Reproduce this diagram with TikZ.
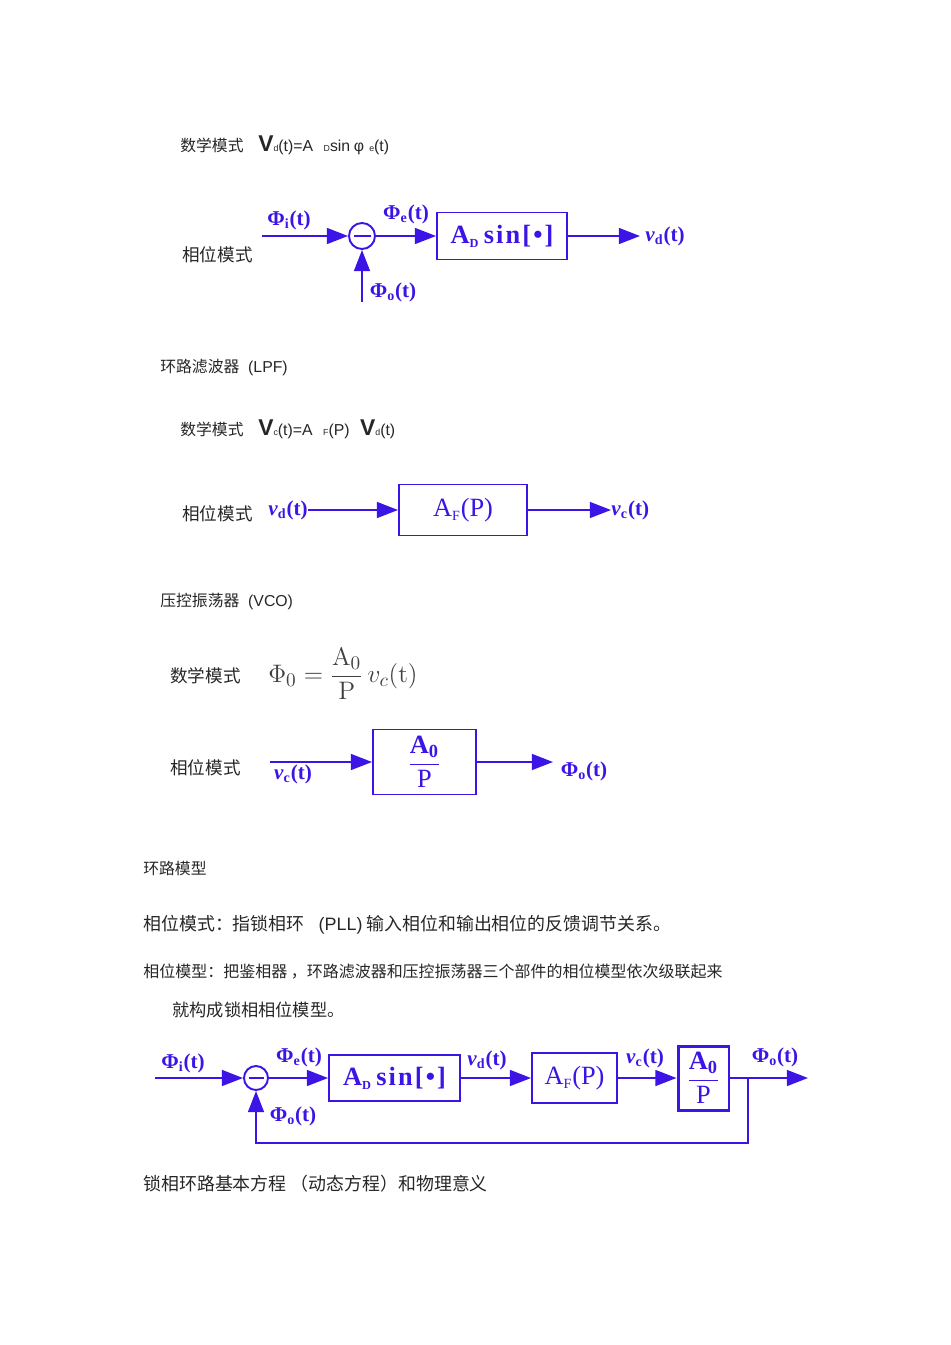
\documentclass[tikz,border=0pt]{standalone}
\usepackage[no-math]{fontspec}
\setmainfont{Liberation Sans}
\newfontfamily\cjk{Noto Sans CJK SC}
\newfontfamily\dfont{Liberation Serif}
\usetikzlibrary{arrows.meta}
\definecolor{pllblue}{RGB}{60,20,230}
\newcommand\phs[1]{Φ\textsubscript{#1}(t)}
\newcommand\vlt[1]{\textit{v}\textsubscript{#1}(t)}
\newcommand\adsin{{\addfontfeature{LetterSpace=8}A\textsubscript{\fontsize{7}{8}\selectfont D}\,sin[\textbullet]}}
\newcommand\afp{A\textsubscript{\fontsize{8}{8}\selectfont F}(P)}
\newcommand\aop{$\displaystyle\frac{\hbox{\bfseries A\textsubscript{0}}}{\hbox{P}}$}

\begin{document}
\begin{tikzpicture}[x=0.02cm, y=-0.02cm,
  txt/.style={anchor=west, inner sep=0pt, text=black!85,
              font=\cjk\fontsize{9}{11}\selectfont},
  mode/.style={txt, font=\cjk\fontsize{10}{12}\selectfont},
  sig/.style={inner sep=0pt, text=pllblue,
              font=\dfont\bfseries\fontsize{12}{14}\selectfont},
  blk/.style={draw=pllblue, line width=1.1pt, inner sep=0pt, text=pllblue,
              font=\dfont\fontsize{15}{17}\selectfont},
  sumpt/.style={circle, draw=pllblue, line width=1.1pt, inner sep=0pt,
              path picture={\draw[pllblue, line width=1.3pt]
                ([xshift=0.09cm]path picture bounding box.west) --
                ([xshift=-0.09cm]path picture bounding box.east);}},
  conn/.style={pllblue, line width=1.1pt, -{Triangle[length=12pt, width=9pt]}}]
  \useasboundingbox (0,0) rectangle (950,1345);

  % phase detector
  \node[txt] (pdmath) at (180,145) {数学模式};
  \node[anchor=west, inner sep=0pt, text=black!85, font=\fontsize{9}{11}\selectfont] (pdeq) at (258,145)
    {{\bfseries\fontsize{13}{14}\selectfont V}{\fontsize{5}{6}\selectfont d}(t)=A\hspace{6pt}{\fontsize{5}{6}\selectfont D}sin\hspace{2pt}φ\hspace{3pt}{\fontsize{5}{6}\selectfont e}(t)};
  \node[mode] (pdmode) at (182,255) {相位模式};
  \coordinate (pdin) at (262,236);
  \coordinate (pdfb) at (362,302);
  \coordinate (pdout) at (640,236);
  \node[sumpt, minimum size=0.52cm] (pdsum) at (362,236) {};
  \node[blk, minimum width=2.6cm, minimum height=0.94cm] (pdblk) at (502,236) {\bfseries\adsin};
  \node[sig] (pdi) at (289,220) {\phs{i}};
  \node[sig] (pde) at (406,214) {\phs{e}};
  \node[sig, anchor=west] (pdvd) at (645,236) {\vlt{d}};
  \node[sig] (pdo) at (393,292) {\phs{o}};
  \draw[conn] (pdin) -- (pdsum.west);
  \draw[conn] (pdfb) -- (pdsum.south);
  \draw[conn] (pdsum.east) -- (pdblk.west);
  \draw[conn] (pdblk.east) -- (pdout);

  % loop filter
  \node[txt] (lftitle) at (160,367) {环路滤波器\hspace{5pt}{\rmfamily (LPF)}};
  \node[txt] (lfmath) at (180,429) {数学模式};
  \node[anchor=west, inner sep=0pt, text=black!85, font=\fontsize{9}{11}\selectfont] (lfeq) at (258,429)
    {{\bfseries\fontsize{13}{14}\selectfont V}{\fontsize{5}{6}\selectfont c}(t)=A\hspace{6pt}{\fontsize{5}{6}\selectfont F}(P)\hspace{6pt}{\bfseries\fontsize{13}{14}\selectfont V}{\fontsize{5}{6}\selectfont d}(t)};
  \node[mode] (lfmode) at (182,514) {相位模式};
  \node[sig, anchor=west] (lfvd) at (268,510) {\vlt{d}};
  \node[blk, minimum width=2.56cm, minimum height=1.02cm] (lfblk) at (463,510) {\afp};
  \node[sig, anchor=west] (lfvc) at (611,510) {\vlt{c}};
  \draw[conn] (lfvd.east) -- (lfblk.west);
  \draw[conn] (lfblk.east) -- (lfvc.west);

  % vco
  \node[txt] (vcotitle) at (160,601) {压控振荡器\hspace{5pt}{\rmfamily (VCO)}};
  \node[mode] (vcomath) at (170,676) {数学模式};
  \node[anchor=west, inner sep=0pt, text=black!75, font=\fontsize{15.5}{17}\selectfont] (vcoeq) at (268,674)
    {$\Phi_0 = \displaystyle\frac{\mathrm{A}_0}{\mathrm{P}}\,v_c(\mathrm{t})$};
  \node[mode] (vcomode) at (170,768) {相位模式};
  \coordinate (vcoin) at (270,762);
  \coordinate (vcoout) at (553,762);
  \node[blk, minimum width=2.06cm, minimum height=1.3cm] (vcoblk) at (424.5,762) {\aop};
  \node[sig] (vcovc) at (293,774) {\vlt{c}};
  \node[sig] (vcoo) at (584,771) {\phs{o}};
  \draw[conn] (vcoin) -- (vcoblk.west);
  \draw[conn] (vcoblk.east) -- (vcoout);

  % loop model text
  \node[txt] (lptitle) at (143,868) {环路模型};
  \node[txt, font=\cjk\fontsize{10.2}{12}\selectfont] (lpdef) at (143,925)
    {相位模式：指锁相环\hspace{8pt}{\rmfamily (PLL)} 输入相位和输出相位的反馈调节关系。};
  \node[txt, font=\cjk\fontsize{9.1}{11}\selectfont] (lpmod) at (143,972)
    {相位模型：把鉴相器 ，环路滤波器和压控振荡器三个部件的相位模型依次级联起来};
  \node[txt, font=\cjk\fontsize{9.8}{12}\selectfont] (lpmod2) at (172,1010) {就构成锁相相位模型。};

  % loop
  \coordinate (lpin) at (155,1078);
  \coordinate (lpout) at (808,1078);
  \coordinate (lptap) at (748,1078);
  \coordinate (lpbot) at (256,1143);
  \node[sumpt, minimum size=0.48cm] (lpsum) at (256,1078) {};
  \node[blk, minimum width=2.62cm, minimum height=0.92cm] (lppd) at (394.5,1078) {\bfseries\adsin};
  \node[blk, minimum width=1.7cm, minimum height=1.0cm] (lplf) at (574.5,1078) {\afp};
  \node[blk, line width=1.7pt, minimum width=1.02cm, minimum height=1.28cm] (lpvco) at (703.5,1078) {\aop};
  \node[sig] (lpi) at (183,1063) {\phs{i}};
  \node[sig] (lpe) at (299,1057) {\phs{e}};
  \node[sig] (lpvd) at (487,1060) {\vlt{d}};
  \node[sig] (lpvc) at (645,1058) {\vlt{c}};
  \node[sig] (lpo) at (775,1057) {\phs{o}};
  \node[sig] (lpfbo) at (293,1116) {\phs{o}};
  \draw[conn] (lpin) -- (lpsum.west);
  \draw[conn] (lpsum.east) -- (lppd.west);
  \draw[conn] (lppd.east) -- (lplf.west);
  \draw[conn] (lplf.east) -- (lpvco.west);
  \draw[conn] (lpvco.east) -- (lpout);
  \draw[conn] (lptap) |- (lpbot) -- (lpsum.south);

  \node[txt, font=\cjk\fontsize{10.2}{12}\selectfont] (eqtitle) at (143,1184)
    {锁相环路基本方程 （动态方程）和物理意义};
\end{tikzpicture}
\end{document}
